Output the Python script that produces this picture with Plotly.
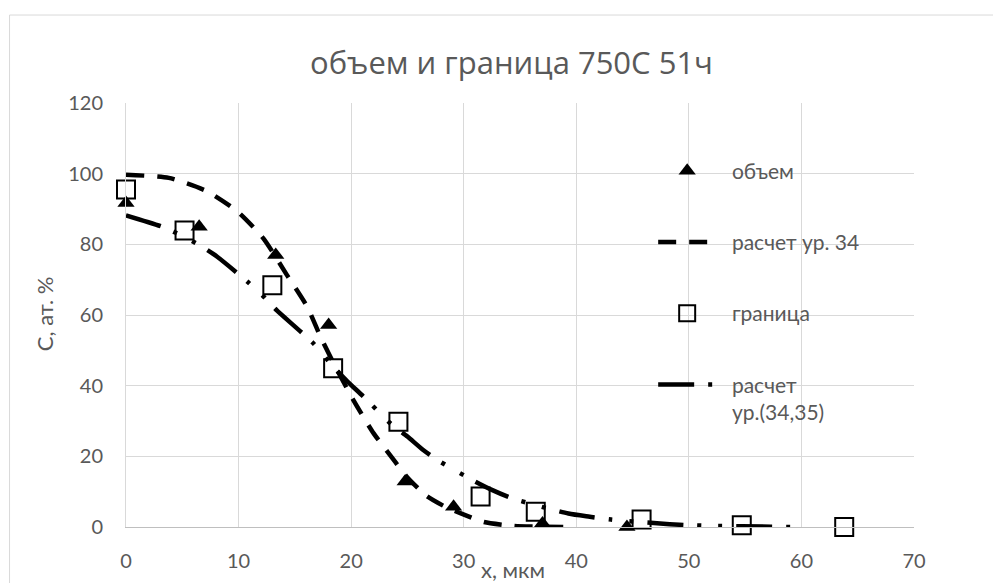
import plotly.graph_objects as go

# --- data ---
vol_x = [0, 6.5, 13.3, 18.0, 24.8, 29.1, 37.0, 44.5]
vol_y = [91.7, 85.0, 77.0, 57.2, 12.9, 5.7, 1.0, 0.0]

bnd_x = [0, 5.2, 13.0, 18.4, 24.2, 31.5, 36.4, 45.8, 54.7, 63.8]
bnd_y = [95.5, 83.9, 68.4, 44.9, 29.8, 8.6, 4.3, 2.1, 0.5, 0.0]

calc34_x = [0, 3.8, 7.2, 9.9, 12.2, 14.3, 16.1, 17.3, 18.5, 20.2, 22.0, 23.9, 25.0,
            26.7, 28.5, 29.8, 31.8, 34.5, 37.0, 39.4]
calc34_y = [99.7, 98.8, 95.0, 89.3, 81.7, 71.3, 62.3, 53.7, 46.0, 35.9, 26.5, 18.5, 14.0,
            8.8, 5.5, 3.8, 1.4, 0.3, 0.1, 0.0]

calc3435_x = [0, 3.2, 4.8, 6.5, 8.1, 10.8, 12.1, 13.4, 16.7, 18.4, 19.7, 21.1, 23.5, 25.0,
              26.4, 27.9, 31.0, 32.5, 34.3, 39.3, 41.2, 43.1, 48.3, 50.1, 52.1, 57.3, 59.2]
calc3435_y = [88.2, 85.0, 82.7, 79.8, 76.5, 69.4, 65.6, 61.3, 51.8, 45.4, 41.1, 36.9, 29.3, 25.6,
              21.8, 18.5, 12.9, 10.5, 8.1, 3.8, 2.9, 2.1, 0.8, 0.5, 0.3, 0.1, 0.0]

SP = "\u00a0\u00a0"
names = [SP + "объем", SP + "расчет ур. 34", SP + "граница", SP + "расчет<br>" + SP + "ур.(34,35)"]

title_text = "объем и граница 750С 51ч"
x_title = "x, мкм"
y_title = "С, ат. %"
x_ticks = [0, 10, 20, 30, 40, 50, 60, 70]
y_ticks = [0, 20, 40, 60, 80, 100, 120]

FONT = "Lato, 'Open Sans', sans-serif"
TFONT = "'Open Sans', Lato, sans-serif"
GREY = "#595959"

fig = go.Figure()
fig.add_trace(go.Scatter(x=vol_x, y=vol_y, mode="markers", name=names[0], legendgroup="a",
                         marker=dict(symbol="triangle-up", size=15, color="black"),
                         cliponaxis=False))
fig.add_trace(go.Scatter(x=calc34_x, y=calc34_y, mode="lines", name=names[1], legendgroup="b",
                         line=dict(color="black", width=4.5, dash="18px,13px", shape="spline", smoothing=0.6),
                         cliponaxis=False))
fig.add_trace(go.Scatter(x=bnd_x, y=bnd_y, mode="markers", name=names[2], legendgroup="c",
                         marker=dict(symbol="square-open", size=18, color="black", line=dict(width=2)),
                         cliponaxis=False))
fig.add_trace(go.Scatter(x=calc3435_x, y=calc3435_y, mode="lines", name=names[3], legendgroup="d",
                         line=dict(color="black", width=4.5, dash="36px,14px,4px,17px,4px,14px",
                                   shape="spline", smoothing=0.6),
                         cliponaxis=False))

# outer chart-area border
fig.add_shape(type="rect", xref="paper", yref="paper", x0=-0.1478, x1=1.5, y0=-0.5, y1=1.2075,
              line=dict(color="#d9d9d9", width=1), layer="below")

fig.add_annotation(text=title_text, xref="paper", yref="paper", x=0.4886, y=1.0, yshift=41,
                   xanchor="center", yanchor="middle",
                   showarrow=False, font=dict(family=TFONT, size=31, color=GREY))
fig.add_annotation(text=x_title, xref="paper", yref="paper", x=0.491, y=0, yshift=-42,
                   xanchor="center", yanchor="middle",
                   showarrow=False, font=dict(family=FONT, size=22, color=GREY))
fig.add_annotation(text=y_title, xref="paper", yref="paper", x=0, xshift=-82, y=0.502,
                   xanchor="center", yanchor="middle",
                   textangle=-90, showarrow=False, font=dict(family=FONT, size=22, color=GREY))

fig.update_layout(
    width=1001, height=583,
    margin=dict(l=118, r=95, t=95, b=64),
    paper_bgcolor="white", plot_bgcolor="white",
    showlegend=True,
    legend=dict(x=0.669, y=0.888, xanchor="left", yanchor="top", bgcolor="rgba(0,0,0,0)",
                font=dict(family=FONT, size=21, color=GREY), tracegroupgap=41,
                itemwidth=58, valign="top", traceorder="grouped"),
    font=dict(family=FONT, color=GREY),
)
fig.update_xaxes(range=[0, 70], tickvals=x_ticks, ticktext=[str(v) for v in x_ticks],
                 showgrid=True, gridcolor="#d9d9d9", gridwidth=1,
                 showline=True, linecolor="#bfbfbf", linewidth=1, zeroline=False,
                 ticks="", ticklabelstandoff=16, tickfont=dict(family=FONT, size=20, color=GREY))
fig.update_yaxes(range=[0, 120], tickvals=y_ticks, ticktext=[str(v) for v in y_ticks],
                 showgrid=True, gridcolor="#d9d9d9", gridwidth=1,
                 showline=True, linecolor="#d9d9d9", linewidth=1, zeroline=False,
                 ticks="", ticklabelstandoff=18, tickfont=dict(family=FONT, size=20, color=GREY))

fig.write_html("out.html")
